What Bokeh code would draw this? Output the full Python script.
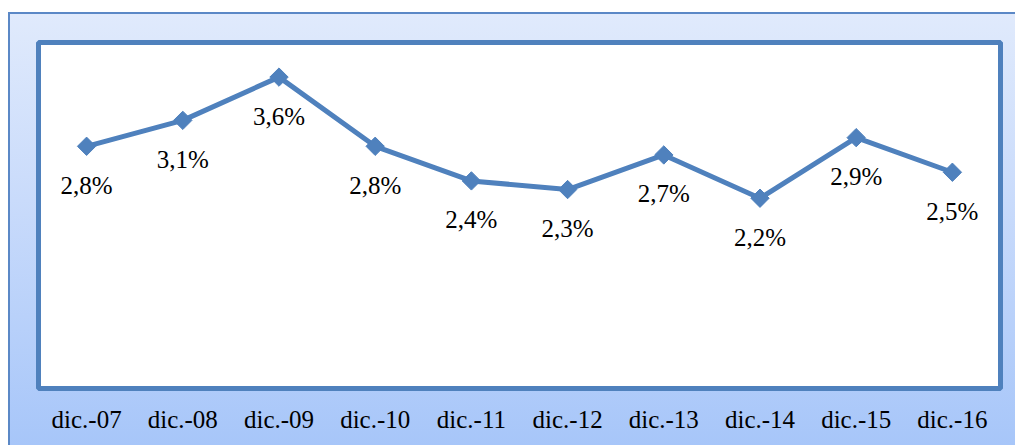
import math
from bokeh.plotting import figure
from bokeh.models import Range1d, FactorRange, ColumnDataSource
from bokeh.core.properties import value
from bokeh.embed import file_html
from bokeh.resources import INLINE

categories = ["dic.-07", "dic.-08", "dic.-09", "dic.-10", "dic.-11",
              "dic.-12", "dic.-13", "dic.-14", "dic.-15", "dic.-16"]
values = [2.8, 3.1, 3.6, 2.8, 2.4, 2.3, 2.7, 2.2, 2.9, 2.5]
labels = ["2,8%", "3,1%", "3,6%", "2,8%", "2,4%", "2,3%", "2,7%", "2,2%", "2,9%", "2,5%"]

BLUE = "#4F81BD"
FONT = "Liberation Serif"

src = ColumnDataSource(dict(x=categories, y=values, label=labels))

bg = ("linear-gradient(to bottom, #ffffff 0px, #ffffff 12px, transparent 12px), "
      "linear-gradient(to right, #ffffff 0px, #ffffff 8px, #5B88C6 8px, #5B88C6 10px, transparent 10px), "
      "linear-gradient(to bottom, #ffffff 0px, #ffffff 12px, #5B88C6 12px, #5B88C6 14px, "
      "#E0EAFC 14px, #C9DBFB 45%, #A7C6F9 100%)")

sheet = (":host { font-family: 'Liberation Serif', serif; } "
         "* { font-family: 'Liberation Serif', serif !important; }")

p = figure(width=1015, height=445, x_range=FactorRange(*categories),
           y_range=Range1d(0, 4), output_backend="svg", toolbar_location=None,
           min_border_left=38, min_border_right=15, min_border_top=42,
           min_border_bottom=57,
           styles={"background": bg, "font-family": "'Liberation Serif', serif"},
           stylesheets=[sheet])

p.border_fill_color = None
p.background_fill_color = "white"
p.outline_line_color = BLUE
p.outline_line_width = 5
p.xgrid.visible = False
p.ygrid.visible = False
p.yaxis.visible = False

ax = p.xaxis[0]
ax.axis_line_color = None
ax.major_tick_line_color = None
ax.minor_tick_line_color = None
ax.major_tick_out = 0
ax.major_tick_in = 0
ax.major_label_standoff = 17
ax.major_label_text_font = FONT
ax.major_label_text_font_size = "25px"
ax.major_label_text_color = "black"

p.line("x", "y", source=src, line_color=BLUE, line_width=5)
p.scatter("x", "y", source=src, marker="square", angle=math.pi / 4, size=13,
          fill_color=BLUE, line_color=BLUE)
p.text("x", "y", text="label", source=src, text_align="center",
       text_baseline="middle", y_offset=39, text_font=value(FONT),
       text_font_size="25px", text_color="black")

open("out.html", "w").write(file_html(p, INLINE))
